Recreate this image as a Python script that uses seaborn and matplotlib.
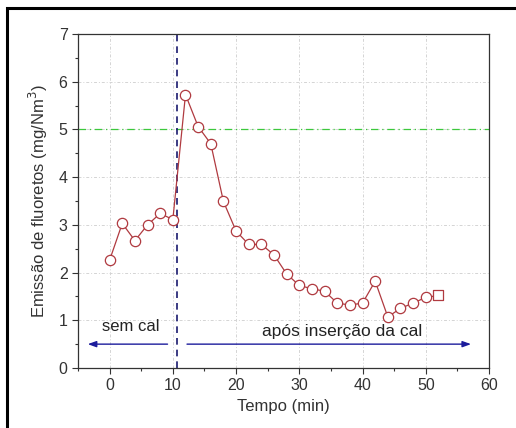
import matplotlib
matplotlib.use('Agg')
import matplotlib.pyplot as plt
import pandas as pd
import seaborn as sns
from matplotlib.patches import Rectangle
from matplotlib.ticker import MultipleLocator

# Data
tempo = [0, 2, 4, 6, 8, 10, 12, 14, 16, 18, 20, 22, 24, 26, 28,
         30, 32, 34, 36, 38, 40, 42, 44, 46, 48, 50, 52]
emissao = [2.26, 3.03, 2.67, 3.00, 3.24, 3.11, 5.73, 5.06, 4.70, 3.49, 2.87, 2.59, 2.59, 2.37, 1.97,
           1.73, 1.66, 1.61, 1.36, 1.32, 1.36, 1.82, 1.07, 1.25, 1.36, 1.48, 1.52]
limite = 5.0
inicio_cal = 10.6

df = pd.DataFrame({'tempo': tempo, 'emissao': emissao})

sns.set_style('ticks')
plt.rcParams['font.family'] = ['Liberation Sans', 'DejaVu Sans']

fig = plt.figure(figsize=(5.16, 4.28), dpi=100)
ax = fig.add_axes([78 / 516, 1 - 368 / 428, (489 - 78) / 516, (368 - 34) / 428])

# outer frame of the picture
fig.patches.append(Rectangle((7 / 516, -0.05), 1.2, 1 - 8 / 428 + 0.05, transform=fig.transFigure,
                             fill=False, edgecolor='black', linewidth=2.2))

red = '#b03a40'
sns.lineplot(data=df, x='tempo', y='emissao', ax=ax, color=red, linewidth=0.9, zorder=3)
sns.scatterplot(data=df.iloc[:-1], x='tempo', y='emissao', ax=ax, marker='o', s=55,
                facecolor='white', edgecolor=red, linewidth=0.9, zorder=4)
sns.scatterplot(data=df.iloc[-1:], x='tempo', y='emissao', ax=ax, marker='s', s=45,
                facecolor='white', edgecolor=red, linewidth=0.9, zorder=4)

ax.axhline(limite, color='#3cc83c', linestyle=(0, (6, 3, 1, 3)), linewidth=0.9, zorder=2)
ax.axvline(inicio_cal, color='#1a1a6e', linestyle=(0, (4, 3)), linewidth=1.2, zorder=2)

# arrows
arrow_kw = dict(arrowstyle='-|>,head_length=0.5,head_width=0.18', color='#1c1c9c', lw=1.0)
ax.annotate('', xy=(-3.9, 0.5), xytext=(9.6, 0.5), arrowprops=arrow_kw)
ax.annotate('', xy=(57.6, 0.5), xytext=(11.8, 0.5), arrowprops=arrow_kw)
ax.text(3.3, 0.88, 'sem cal', ha='center', va='center', fontsize=12, color='#222222')
ax.text(36.8, 0.76, 'após inserção da cal', ha='center', va='center', fontsize=12.5, color='#222222')

ax.set_xlim(-5, 60)
ax.set_ylim(0, 7)
ax.xaxis.set_major_locator(MultipleLocator(10))
ax.xaxis.set_minor_locator(MultipleLocator(5))
ax.yaxis.set_major_locator(MultipleLocator(1))
ax.yaxis.set_minor_locator(MultipleLocator(0.5))
ax.grid(True, which='major', color='#d4d4d4', linestyle=(0, (3, 2, 1, 2)), linewidth=0.7)
ax.tick_params(which='major', direction='out', length=4, width=0.8, colors='#333333',
               labelsize=11.5, labelcolor='#333333')
ax.tick_params(which='minor', direction='out', length=2.5, width=0.8, colors='#333333')
for s in ax.spines.values():
    s.set_color('#333333')
    s.set_linewidth(0.9)

ax.set_xlabel('Tempo (min)', fontsize=12, color='#333333', labelpad=4)
ax.set_ylabel('Emissão de fluoretos (mg/Nm$^3$)', fontsize=12, color='#333333', labelpad=6)

fig.savefig('out.png', dpi=100)
